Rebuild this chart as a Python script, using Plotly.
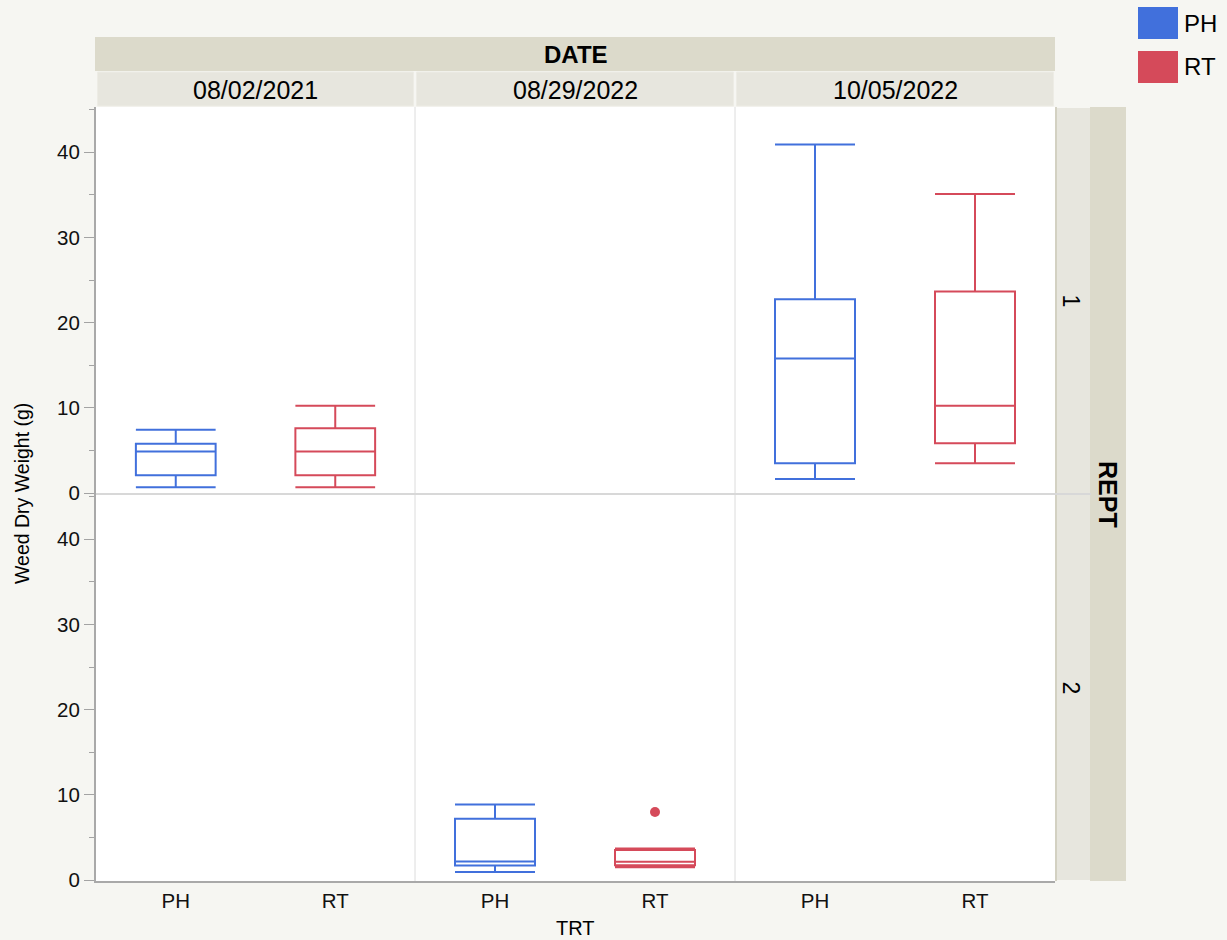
import plotly.graph_objects as go
from plotly.subplots import make_subplots

# ---- data -------------------------------------------------------------
dates = ["08/02/2021", "08/29/2022", "10/05/2022"]
repts = [1, 2]
trts = ["PH", "RT"]

# five-number summaries of weed dry weight (g) per DATE x REPT x TRT cell
box_date = ["08/02/2021", "08/02/2021", "10/05/2022", "10/05/2022", "08/29/2022", "08/29/2022"]
box_rept = [1, 1, 1, 1, 2, 2]
box_trt = ["PH", "RT", "PH", "RT", "PH", "RT"]
box_low = [0.70, 0.70, 1.65, 3.50, 0.97, 1.52]
box_q1 = [2.10, 2.10, 3.50, 5.85, 1.72, 1.76]
box_med = [4.90, 4.90, 15.80, 10.25, 2.19, 2.15]
box_q3 = [5.80, 7.60, 22.75, 23.65, 7.19, 3.55]
box_high = [7.45, 10.25, 40.90, 35.10, 8.88, 3.72]

# individual outlying observations
out_date = ["08/29/2022"]
out_rept = [2]
out_trt = ["RT"]
out_val = [8.0]

colors = {"PH": "#4170DC", "RT": "#D54A5A"}

# ---- geometry helpers (pixel -> paper) ---------------------------------
W, H = 1227, 940
def fx(px):
    return px / W
def fy(py):
    return 1 - py / H

col_px = [(96, 415), (415, 735), (735, 1055)]
row_px = [(107, 494), (494, 881)]

FONT = "Liberation Sans, Arial, Helvetica, sans-serif"
TICK_GREY = "#a3a3a3"

fig = make_subplots(rows=2, cols=3, horizontal_spacing=0, vertical_spacing=0)

# an empty trace in every cell keeps the axes of panels without data alive
for r in range(1, 3):
    for c in range(1, 4):
        fig.add_trace(
            go.Scatter(x=trts, y=[None, None], mode="markers",
                       showlegend=False, hoverinfo="skip"),
            row=r, col=c,
        )

for i, (b_d, b_r, b_t) in enumerate(zip(box_date, box_rept, box_trt)):
    r = repts.index(b_r) + 1
    c = dates.index(b_d) + 1
    fig.add_trace(
        go.Box(
            x=[b_t],
            q1=[box_q1[i]], median=[box_med[i]], q3=[box_q3[i]],
            lowerfence=[box_low[i]], upperfence=[box_high[i]],
            width=0.5, whiskerwidth=1,
            line=dict(color=colors[b_t], width=2),
            fillcolor="rgba(255,255,255,0)",
            boxpoints=False, showlegend=False, name=b_t,
        ),
        row=r, col=c,
    )

for d, rp, t, v in zip(out_date, out_rept, out_trt, out_val):
    fig.add_trace(
        go.Scatter(
            x=[t], y=[v], mode="markers",
            marker=dict(color=colors[t], size=10),
            showlegend=False,
        ),
        row=repts.index(rp) + 1, col=dates.index(d) + 1,
    )

# ---- axes --------------------------------------------------------------
for r in range(1, 3):
    for c in range(1, 4):
        x0, x1 = col_px[c - 1]
        y0, y1 = row_px[r - 1]
        fig.update_xaxes(
            row=r, col=c,
            domain=[fx(x0), fx(x1)],
            type="category", categoryorder="array", categoryarray=trts,
            range=[-0.5, 1.5],
            showgrid=False, zeroline=False, ticks="",
            showticklabels=(r == 2),
            tickfont=dict(family=FONT, size=20.5, color="#111111"),
            showline=(r == 2), linecolor="#a9a9a9", linewidth=2,
            automargin=False, fixedrange=True,
        )
        fig.update_yaxes(
            row=r, col=c,
            domain=[fy(y1), fy(y0)],
            range=[-0.1, 45.3],
            showgrid=False, zeroline=False,
            tick0=0, dtick=10,
            ticks="outside" if c == 1 else "",
            ticklen=10, tickwidth=1, tickcolor=TICK_GREY,
            minor=dict(tick0=0, dtick=5, ticks="outside" if c == 1 else "",
                       ticklen=5, tickcolor=TICK_GREY, showgrid=False),
            showticklabels=(c == 1),
            tickfont=dict(family=FONT, size=20.5, color="#111111"),
            showline=(c == 1), linecolor="#a9a9a9", linewidth=2,
            automargin=False, fixedrange=True,
        )

shapes = []
annotations = []

OUTER = "#dcdacb"
INNER = "#e7e6de"
EDGE = "#d3d1c2"


def label(text, xp, yp, size, angle=0, anchor="center"):
    annotations.append(dict(text=text, x=fx(xp), y=fy(yp), xref="paper", yref="paper",
                            xanchor=anchor, yanchor="middle", textangle=angle,
                            showarrow=False,
                            font=dict(family=FONT, size=size, color="#000000")))


# DATE header strip
shapes.append(dict(type="rect", xref="paper", yref="paper",
                   x0=fx(95), x1=fx(1055), y0=fy(71), y1=fy(37),
                   fillcolor=OUTER, line=dict(width=0), layer="above"))
label("<b>DATE</b>", 575.5, 54, 24)
# one date strip per column
for (x0, x1), d in zip(col_px, dates):
    shapes.append(dict(type="rect", xref="paper", yref="paper",
                       x0=fx(x0 + 1.5), x1=fx(x1 - 1.5), y0=fy(106), y1=fy(72),
                       fillcolor=INNER, line=dict(color="#edece5", width=1), layer="above"))
    label(d, (x0 + x1) / 2, 90, 25)

# REPT side strip
shapes.append(dict(type="rect", xref="paper", yref="paper",
                   x0=fx(1090), x1=fx(1126), y0=fy(881), y1=fy(107),
                   fillcolor=OUTER, line=dict(width=0), layer="above"))
label("<b>REPT</b>", 1108, 494, 25, angle=90)
for (y0, y1), rp in zip(row_px, repts):
    shapes.append(dict(type="rect", xref="paper", yref="paper",
                       x0=fx(1056), x1=fx(1090), y0=fy(y1 - 1), y1=fy(y0 + 1),
                       fillcolor=INNER, line=dict(width=0), layer="above"))
    label(str(rp), 1071, (y0 + y1) / 2, 23, angle=90)
shapes.append(dict(type="line", xref="paper", yref="paper",
                   x0=fx(1056), x1=fx(1056), y0=fy(881), y1=fy(107),
                   line=dict(color=EDGE, width=2), layer="above"))

# panel dividers
for xp in (415, 735):
    shapes.append(dict(type="line", xref="paper", yref="paper",
                       x0=fx(xp), x1=fx(xp), y0=fy(881), y1=fy(107),
                       line=dict(color="#dcdcdc", width=1), layer="above"))
shapes.append(dict(type="line", xref="paper", yref="paper",
                   x0=fx(96), x1=fx(1091), y0=fy(494), y1=fy(494),
                   line=dict(color="#d8d8d8", width=2), layer="above"))

# axis titles
label("Weed Dry Weight (g)", 22, 494, 19.5, angle=-90)
label("TRT", 575.5, 928, 20)

# legend swatches
for k, t in enumerate(trts):
    top = 7 + k * 44
    shapes.append(dict(type="rect", xref="paper", yref="paper",
                       x0=fx(1138), x1=fx(1178), y0=fy(top + 32), y1=fy(top),
                       fillcolor=colors[t], line=dict(width=0), layer="above"))
    label(t, 1182, top + 16, 24, anchor="left")

fig.update_layout(
    width=W, height=H,
    margin=dict(l=0, r=0, t=0, b=0),
    paper_bgcolor="#f6f6f2",
    plot_bgcolor="#ffffff",
    shapes=shapes,
    annotations=annotations,
    showlegend=False,
    font=dict(family=FONT),
)

fig.write_html("out.html")
